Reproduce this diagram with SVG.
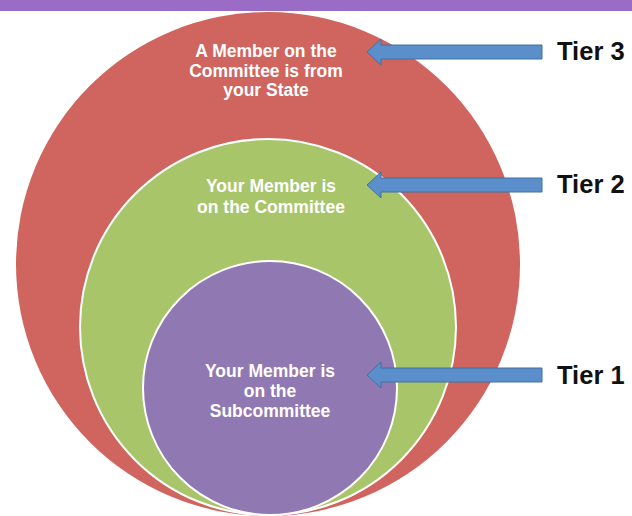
<svg xmlns="http://www.w3.org/2000/svg" width="632" height="516" viewBox="0 0 632 516">
<defs>
<style>
.lbl{font-family:"Liberation Sans",Arial,sans-serif;font-weight:bold;font-size:17.5px;fill:#ffffff;text-anchor:middle}
.tier{font-family:"Liberation Sans",Arial,sans-serif;font-weight:bold;font-size:25.5px;fill:#111111}
.arrow{fill:#5B8FCC;stroke:#41719C;stroke-width:1}
</style>
</defs>
<rect x="0" y="0" width="632" height="516" fill="#ffffff"/>
<rect x="0" y="0" width="632" height="11" fill="#9A6CC6"/>
<g id="tier3-circle">
<circle cx="268" cy="264" r="252" fill="#D0645E"/>
<text class="lbl" x="266" y="57">A Member on the</text>
<text class="lbl" x="266" y="77">Committee is from</text>
<text class="lbl" x="266" y="96">your State</text>
</g>
<g id="tier2-circle">
<circle cx="268" cy="327" r="188" fill="#A9C56A" stroke="#ffffff" stroke-width="2"/>
<text class="lbl" x="271" y="192">Your Member is</text>
<text class="lbl" x="271" y="213">on the Committee</text>
</g>
<g id="tier1-circle">
<circle cx="270" cy="388" r="127" fill="#9079B2" stroke="#ffffff" stroke-width="2"/>
<text class="lbl" x="270" y="377">Your Member is</text>
<text class="lbl" x="270" y="397">on the</text>
<text class="lbl" x="270" y="417">Subcommittee</text>
</g>
<g id="connectors">
<polygon class="arrow" points="367,52 381,39 381,45 542,45 542,59 381,59 381,65"/>
<polygon class="arrow" points="367,185 381,172 381,178 542,178 542,192 381,192 381,198"/>
<polygon class="arrow" points="367,375 381,362 381,368 542,368 542,382 381,382 381,388"/>
</g>
<g id="tier3"><text class="tier" x="557" y="60">Tier 3</text></g>
<g id="tier2"><text class="tier" x="557" y="193">Tier 2</text></g>
<g id="tier1"><text class="tier" x="557" y="384">Tier 1</text></g>
</svg>
